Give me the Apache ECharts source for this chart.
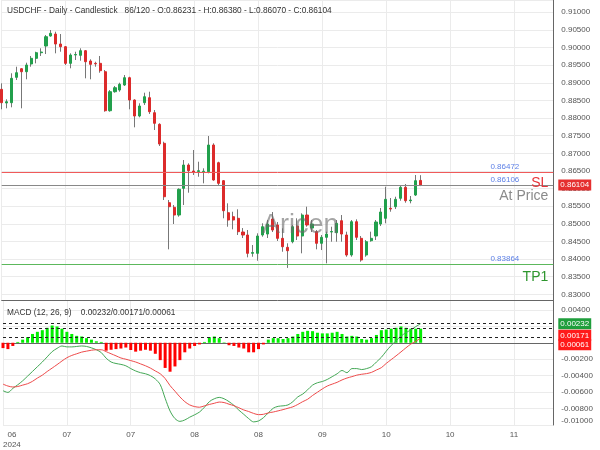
<!DOCTYPE html>
<html><head><meta charset="utf-8">
<script src="https://cdn.jsdelivr.net/npm/echarts@6/dist/echarts.min.js"></script>
<style>html,body{margin:0;padding:0;background:#fff}#c{width:600px;height:450px}</style>
</head><body><div id="c"></div>
<script>
const symbolName = 'USDCHF';
const tickLabels = ['06\n2024','07','07','08','08','09','10','10','11'];
const totalSlots = 113;
const opens = [0.88815,0.88427,0.88435,0.89155,0.89399,0.89314,0.89533,0.89694,0.89853,0.90043,
0.90327,0.90383,0.90100,0.90023,0.89552,0.89788,0.89779,0.89910,0.89618,0.89552,
0.89552,0.89314,0.88208,0.88747,0.88795,0.88937,0.89144,0.88512,0.88058,0.88435,
0.88577,0.88151,0.87822,0.87284,0.85599,0.85469,0.85250,0.86007,0.86668,0.86498,
0.86484,0.86478,0.86478,0.87235,0.86733,0.86223,0.85315,0.85202,0.85157,0.84768,
0.84683,0.84164,0.84164,0.84683,0.84711,0.85137,0.84967,0.84589,0.84334,0.84493,
0.84938,0.84655,0.85250,0.84881,0.84777,0.84448,0.84618,0.84768,0.84748,0.85088,
0.84683,0.84116,0.85060,0.84589,0.84116,0.84521,0.84655,0.84995,0.85157,0.85440,
0.85486,0.85724,0.86036,0.85656,0.85817,0.86231];
const highs = [0.88985,0.88532,0.89269,0.89456,0.89411,0.89570,0.89760,0.89881,0.89978,0.90355,
0.90497,0.90449,0.90383,0.90043,0.89836,0.89881,0.89978,0.89930,0.89666,0.89598,
0.89760,0.89362,0.88795,0.88909,0.89002,0.89221,0.89172,0.88532,0.88418,0.88719,
0.88747,0.88228,0.87851,0.87329,0.85676,0.85534,0.86007,0.86810,0.86716,0.87094,
0.86762,0.86575,0.87491,0.87284,0.86762,0.86243,0.85582,0.85344,0.85412,0.84881,
0.84825,0.84399,0.84731,0.85015,0.85108,0.85335,0.85052,0.84873,0.84448,0.84967,
0.85157,0.85298,0.85486,0.85108,0.84825,0.84683,0.84777,0.84918,0.85108,0.85250,
0.84777,0.85108,0.85128,0.84655,0.84541,0.84777,0.85108,0.85449,0.86053,0.85732,
0.85769,0.86101,0.86129,0.85789,0.86385,0.86380];
const lows = [0.88248,0.88276,0.88305,0.89079,0.88276,0.89099,0.89456,0.89552,0.89760,0.89816,
0.90307,0.89836,0.89881,0.89504,0.89411,0.89646,0.89626,0.89127,0.89099,0.89456,
0.89286,0.88180,0.88180,0.88719,0.88747,0.88909,0.88248,0.87737,0.88021,0.88370,
0.88115,0.87661,0.87207,0.85676,0.84277,0.84995,0.85202,0.85534,0.85883,0.86385,
0.86336,0.86149,0.86433,0.86223,0.86101,0.85157,0.84918,0.84845,0.84683,0.84598,
0.84050,0.84067,0.83954,0.84635,0.84598,0.84768,0.84513,0.84209,0.83750,0.84448,
0.84541,0.84164,0.84918,0.84768,0.84277,0.84257,0.83880,0.84493,0.84493,0.84493,
0.84067,0.84067,0.84541,0.83926,0.84067,0.84493,0.84541,0.84938,0.85015,0.85344,
0.85420,0.85656,0.85599,0.85582,0.85789,0.86070];
const closes = [0.88435,0.88463,0.89127,0.89286,0.89314,0.89504,0.89694,0.89853,0.89873,0.90307,
0.90403,0.90100,0.90023,0.89552,0.89788,0.89802,0.89910,0.89598,0.89524,0.89538,
0.89343,0.88208,0.88747,0.88860,0.88957,0.89144,0.88512,0.88058,0.88341,0.88605,
0.88180,0.87851,0.87264,0.85769,0.85486,0.85250,0.85979,0.86668,0.86507,0.86455,
0.86507,0.86492,0.87235,0.86243,0.86149,0.85372,0.85108,0.85108,0.84777,0.84683,
0.84164,0.84187,0.84655,0.84918,0.84995,0.84825,0.84589,0.84351,0.84238,0.84918,
0.84655,0.85250,0.84967,0.84995,0.84448,0.84618,0.84711,0.84782,0.85015,0.84711,
0.84116,0.85060,0.84618,0.83974,0.84493,0.84589,0.85052,0.85335,0.85695,0.85420,
0.85695,0.86036,0.85656,0.85676,0.86223,0.86104];
const macdLine = [-0.00583,-0.00604,-0.00555,-0.00511,-0.00463,-0.00406,-0.00349,-0.00291,-0.00234,-0.00171,
-0.00108,-0.00068,-0.00039,-0.00050,-0.00050,-0.00045,-0.00039,-0.00045,-0.00062,-0.00085,
-0.00119,-0.00188,-0.00234,-0.00252,-0.00263,-0.00280,-0.00314,-0.00343,-0.00364,-0.00377,
-0.00400,-0.00440,-0.00509,-0.00675,-0.00830,-0.00922,-0.00956,-0.00939,-0.00905,-0.00876,
-0.00842,-0.00784,-0.00716,-0.00681,-0.00664,-0.00681,-0.00716,-0.00761,-0.00819,-0.00870,
-0.00922,-0.00962,-0.00951,-0.00911,-0.00853,-0.00796,-0.00773,-0.00767,-0.00756,-0.00716,
-0.00658,-0.00624,-0.00572,-0.00515,-0.00486,-0.00471,-0.00446,-0.00412,-0.00377,-0.00337,
-0.00364,-0.00314,-0.00314,-0.00326,-0.00314,-0.00291,-0.00234,-0.00177,-0.00102,-0.00033,
0.00024,0.00081,0.00122,0.00156,0.00196,0.00232];
const signalLine = [-0.00503,-0.00526,-0.00538,-0.00532,-0.00515,-0.00498,-0.00469,-0.00429,-0.00394,-0.00349,
-0.00308,-0.00266,-0.00222,-0.00182,-0.00154,-0.00134,-0.00114,-0.00102,-0.00091,-0.00085,
-0.00085,-0.00108,-0.00134,-0.00159,-0.00185,-0.00200,-0.00217,-0.00234,-0.00257,-0.00280,
-0.00308,-0.00343,-0.00377,-0.00435,-0.00521,-0.00589,-0.00658,-0.00716,-0.00756,-0.00776,
-0.00784,-0.00767,-0.00750,-0.00736,-0.00721,-0.00727,-0.00747,-0.00765,-0.00790,-0.00817,
-0.00836,-0.00859,-0.00874,-0.00870,-0.00853,-0.00842,-0.00828,-0.00813,-0.00796,-0.00779,
-0.00750,-0.00716,-0.00687,-0.00641,-0.00601,-0.00561,-0.00526,-0.00503,-0.00481,-0.00452,
-0.00429,-0.00412,-0.00394,-0.00383,-0.00375,-0.00360,-0.00331,-0.00303,-0.00251,-0.00205,
-0.00159,-0.00111,-0.00062,-0.00016,0.00018,0.00056];
const histogram = [-0.00065,-0.00077,-0.00039,0.00010,0.00038,0.00068,0.00107,0.00133,0.00153,0.00182,
0.00210,0.00198,0.00171,0.00133,0.00107,0.00084,0.00076,0.00056,0.00038,0.00018,
0.00010,-0.00096,-0.00085,-0.00077,-0.00070,-0.00058,-0.00088,-0.00108,-0.00096,-0.00085,
-0.00096,-0.00134,-0.00211,-0.00306,-0.00352,-0.00288,-0.00211,-0.00116,-0.00070,-0.00039,
-0.00020,0.00010,0.00068,0.00076,0.00056,0.00005,-0.00030,-0.00039,-0.00058,-0.00070,
-0.00116,-0.00116,-0.00077,-0.00020,0.00038,0.00056,0.00056,0.00046,0.00056,0.00076,
0.00107,0.00133,0.00145,0.00141,0.00122,0.00114,0.00114,0.00122,0.00133,0.00107,
0.00076,0.00084,0.00076,0.00046,0.00038,0.00056,0.00095,0.00153,0.00161,0.00171,
0.00182,0.00198,0.00182,0.00171,0.00171,0.00171];
const slLevel = 0.86472;
const atPriceLevel = 0.86106;
const tp1Level = 0.83864;
const macdLevels = [0.00232, 0.00171, 0.00061];

const FONT = '"Liberation Sans", Arial, sans-serif';
const n = opens.length;
const last = n - 1;
const cats = Array.from({length: totalSlots}, (_, i) => String(i));
const candleData = opens.map((o, i) => [o, closes[i], lows[i], highs[i]]);
const bodyData = opens.map((o, i) => [o, closes[i], Math.min(o, closes[i]), Math.max(o, closes[i])]);
const f5 = v => v.toFixed(5);

const chart = echarts.init(document.getElementById('c'), null, {renderer: 'canvas'});
const axisCol = '#666';
const gridCol = '#ebebeb';
const labelCol = '#555';
const hidden = {color: 'rgba(0,0,0,0)', width: 0.01, type: 'solid'};

function blueLabel(v) {
  return {show: true, position: 'insideEndTop', formatter: f5(v), color: '#5b7fe6', fontSize: 8, fontFamily: FONT, distance: [34, 1]};
}
function nameLabel(text, color, dy) {
  return {show: true, position: 'insideEndBottom', formatter: text, color: color, fontSize: 14, fontFamily: FONT, distance: [5, dy]};
}

const option = {
  animation: false,
  backgroundColor: '#fff',
  textStyle: {fontFamily: FONT},
  title: [
    {text: symbolName + ' - Daily - Candlestick   ' + n + '/120 - O:' + f5(opens[last]) + ' - H:' + f5(highs[last]) + ' - L:' + f5(lows[last]) + ' - C:' + f5(closes[last]),
     left: 7, top: 6.5, padding: 0, textStyle: {fontSize: 8.3, fontWeight: 'normal', color: '#333', fontFamily: FONT}},
    {text: 'MACD (12, 26, 9)    ' + f5(macdLevels[0]) + '/' + f5(macdLevels[1]) + '/' + f5(macdLevels[2]),
     left: 7, top: 308.5, padding: 0, textStyle: {fontSize: 8.3, fontWeight: 'normal', color: '#333', fontFamily: FONT}}
  ],
  graphic: [{
    type: 'text', left: 262, top: 212, z: 100, silent: true,
    style: {text: 'Aricen', font: '27px ' + FONT, fill: 'rgba(105,105,105,0.6)'}
  }],
  grid: [
    {left: 1.7, right: 46.7, top: 0, height: 300},
    {left: 1.7, right: 46.7, top: 300, bottom: 17.5}
  ],
  xAxis: [
    {type: 'category', gridIndex: 0, data: cats, boundaryGap: false,
     axisLabel: {show: false}, axisTick: {show: false},
     axisLine: {show: true, lineStyle: {color: axisCol}},
     splitLine: {show: true, interval: 12, lineStyle: {color: gridCol}}},
    {type: 'category', gridIndex: 1, data: cats, boundaryGap: false,
     axisTick: {show: false},
     axisLine: {show: true, lineStyle: {color: axisCol}},
     splitLine: {show: true, interval: 12, lineStyle: {color: gridCol}},
     axisLabel: {show: true, interval: 12, margin: 5, fontSize: 8, color: labelCol, fontFamily: FONT, lineHeight: 10,
       alignMinLabel: 'left',
       formatter: (v, idx) => {
         const k = idx / 13;
         if (idx % 13 !== 0 || k >= tickLabels.length) return '';
         if (k === 0) return '\u00a0\u00a0' + tickLabels[0];
         return tickLabels[k];
       }}}
  ],
  yAxis: [
    {type: 'value', gridIndex: 0, position: 'right', min: 0.8284, max: 0.91348, splitNumber: 17, scale: true,
     axisLine: {show: true, lineStyle: {color: axisCol}}, axisTick: {show: false},
     splitLine: {show: true, lineStyle: {color: gridCol}},
     axisLabel: {fontSize: 8, color: labelCol, fontFamily: FONT, margin: 8, showMinLabel: false, showMaxLabel: false, formatter: v => f5(v)}},
    {type: 'value', gridIndex: 1, position: 'right', min: -0.01, max: 0.0052, interval: 0.002,
     axisLine: {show: true, lineStyle: {color: axisCol}}, axisTick: {show: false},
     splitLine: {show: true, lineStyle: {color: gridCol}},
     axisLabel: {fontSize: 8, color: labelCol, fontFamily: FONT, margin: 8, showMaxLabel: false, verticalAlignMinLabel: 'bottom', formatter: v => f5(v)}}
  ],
  series: [
    {type: 'candlestick', name: 'wick', xAxisIndex: 0, yAxisIndex: 0, data: candleData, barWidth: 1, clip: false,
     itemStyle: {color: '#777', color0: '#777', borderColor: '#777', borderColor0: '#777', borderWidth: 1}},
    {type: 'candlestick', name: 'body', xAxisIndex: 0, yAxisIndex: 0, data: bodyData, barWidth: 2.6, clip: false,
     itemStyle: {color: '#22a04c', color0: '#dc2b2b', borderColor: '#22a04c', borderColor0: '#dc2b2b', borderWidth: 1},
     markLine: {silent: true, symbol: 'none', animation: false, precision: 5,
       data: [
         {yAxis: slLevel, lineStyle: {color: '#f05a5a', width: 1, type: 'solid'}, label: blueLabel(slLevel)},
         {yAxis: atPriceLevel, lineStyle: {color: '#888', width: 1, type: 'solid'}, label: blueLabel(atPriceLevel)},
         {yAxis: tp1Level, lineStyle: {color: '#5cb85c', width: 1, type: 'solid'}, label: blueLabel(tp1Level)},
         {yAxis: slLevel, lineStyle: hidden, label: nameLabel('SL', '#e8353a', 4)},
         {yAxis: atPriceLevel, lineStyle: hidden, label: nameLabel('At Price', '#8a8a8a', 4)},
         {yAxis: tp1Level, lineStyle: hidden, label: nameLabel('TP1', '#2e962e', 6)},
         {yAxis: closes[last], lineStyle: hidden,
          label: {show: true, position: 'end', distance: 5, formatter: f5(closes[last]), color: '#fff', backgroundColor: '#e53030', fontSize: 8, fontFamily: FONT, padding: [2, 2, 1, 2]}}
       ]}},
    {type: 'bar', name: 'hist', xAxisIndex: 1, yAxisIndex: 1, data: histogram, barWidth: 3,
     itemStyle: {color: p => p.value >= 0 ? '#00ee00' : '#ff0000'},
     markLine: {silent: true, symbol: 'none', animation: false, precision: 5,
       data: macdLevels.map((v, k) => ({
         yAxis: v,
         lineStyle: {color: '#222', width: 1, type: [3, 3]},
         label: {show: true, position: 'end', distance: 5, formatter: '{t|' + f5(v) + '}',
           padding: [[0, 13, 14][k], 0, 0, 0],
           rich: {t: {color: '#fff', backgroundColor: k === 0 ? '#1f9e3c' : '#ff1a1a', fontSize: 8, fontFamily: FONT, padding: [2, 2, 1, 2]}}}
       }))}},
    {type: 'line', name: 'macd', xAxisIndex: 1, yAxisIndex: 1, data: macdLine, symbol: 'none', smooth: 0.3,
     lineStyle: {color: '#44a856', width: 1}},
    {type: 'line', name: 'signal', xAxisIndex: 1, yAxisIndex: 1, data: signalLine, symbol: 'none', smooth: 0.3,
     lineStyle: {color: '#ee4b4b', width: 1}}
  ]
};
chart.setOption(option);
</script>
</body></html>
